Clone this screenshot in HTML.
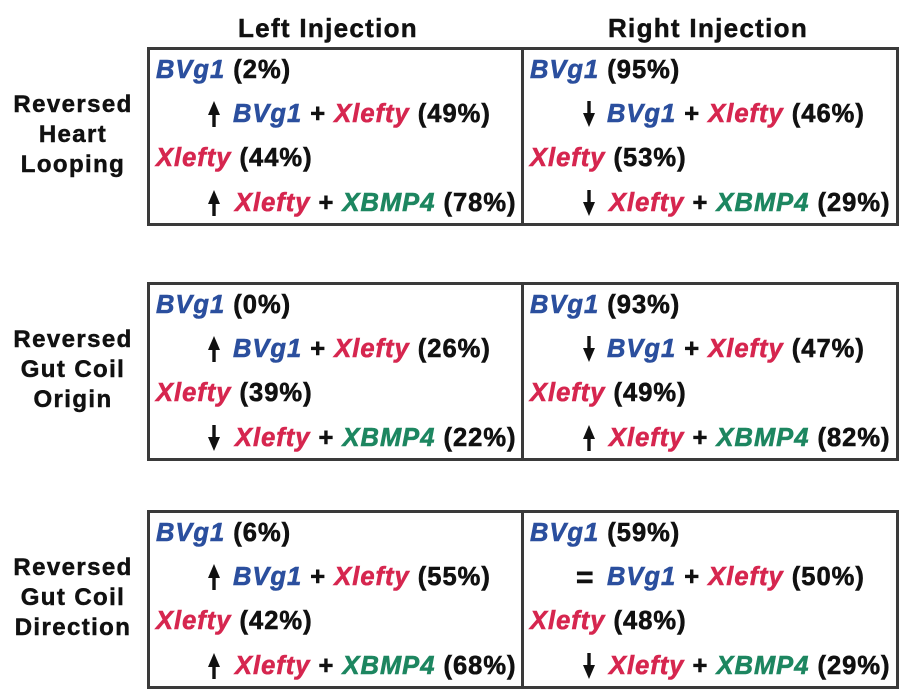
<!DOCTYPE html>
<html><head><meta charset="utf-8"><style>
body{margin:0;width:904px;height:698px;background:#fff;position:relative;overflow:hidden;font-family:"Liberation Sans",Arial,sans-serif;font-weight:bold;}
.t{position:absolute;font-size:25.5px;line-height:28px;letter-spacing:1px;white-space:nowrap;color:#111;-webkit-text-stroke:0.6px currentColor;}
.b{color:#2b4f9e;font-style:italic}.r{color:#d6264f;font-style:italic}.g{color:#1d8660;font-style:italic}
.box{position:absolute;border:3px solid #3a3a3a;box-sizing:border-box;}
.hd{position:absolute;font-size:26px;letter-spacing:1.3px;color:#111;text-align:center;width:320px;-webkit-text-stroke:0.5px #111;}
.lab{position:absolute;left:0;width:146px;text-align:center;font-size:24px;letter-spacing:1.4px;line-height:30px;color:#111;-webkit-text-stroke:0.5px #111;}
</style></head><body>
<div class="hd" style="left:168px;top:13px">Left Injection</div>
<div class="hd" style="left:548px;top:13px">Right Injection</div>
<script>
const rowLabels=[["Reversed","Heart","Looping"],["Reversed","Gut Coil","Origin"],["Reversed","Gut Coil","Direction"]];
const rowTops=[47,282,510];
const leftVals=[[2,49,44,78],[0,26,39,22],[6,55,42,68]];
const leftArrows=[["up","up"],["up","down"],["up","up"]];
const rightVals=[[95,46,53,29],[93,47,49,82],[59,50,48,29]];
const rightArrows=[["down","down"],["down","up"],["eq","down"]];
const root=document.body;
function arrow(dir,x,y){
  const d=document.createElement('div');
  
  
  d.style.cssText='position:absolute;left:'+x+'px;top:'+y+'px;';
  if(dir==='eq'){d.className='t';d.textContent='=';d.style.fontSize='30px';}
  else{const up=dir==='up';
   d.innerHTML='<svg width="14" height="26"><polygon points="'+(up?'7,0 13,14 1,14':'7,26 13,12 1,12')+'" fill="#111"/><rect x="5.3" y="'+(up?10:0)+'" width="3.4" height="16" fill="#111"/></svg>';}
  root.appendChild(d);
}
function txt(html,x,y,name){
  const d=document.createElement('div');d.className='t';
  
  
  d.style.left=x+'px';d.style.top=y+'px';d.innerHTML=html;root.appendChild(d);
}
rowTops.forEach((top,i)=>{
  const bx=document.createElement('div');bx.className='box';
  
  
  bx.style.cssText='left:147px;top:'+top+'px;width:752px;height:179px;';
  root.appendChild(bx);
  const dv=document.createElement('div');
  
  
  dv.style.cssText='position:absolute;left:521px;top:'+top+'px;width:3px;height:179px;background:#3a3a3a;';
  root.appendChild(dv);
  const lb=document.createElement('div');lb.className='lab';
  
  
  lb.style.top=(top+43)+'px';lb.innerHTML=rowLabels[i].join('<br>');root.appendChild(lb);
  [[leftVals,leftArrows,156,207,233],[rightVals,rightArrows,530,582,607]].forEach(([V,A,x0,ax,tx],c)=>{
    const v=V[i],a=A[i];
    txt('<span class="b">BVg1</span> ('+v[0]+'%)',x0,top+9,'bvg1-value');
    arrow(a[0],ax-(a[0]==='eq'?6:0),top+54);
    txt('<span class="b">BVg1</span> + <span class="r">Xlefty</span> ('+v[1]+'%)',tx,top+53,'bvg1-xlefty-value');
    txt('<span class="r">Xlefty</span> ('+v[2]+'%)',x0,top+97,'xlefty-value');
    arrow(a[1],ax,top+143);
    txt('<span class="r">Xlefty</span> + <span class="g">XBMP4</span> ('+v[3]+'%)',tx+2,top+142,'xlefty-xbmp4-value');
  });
});
</script>
</body></html>
